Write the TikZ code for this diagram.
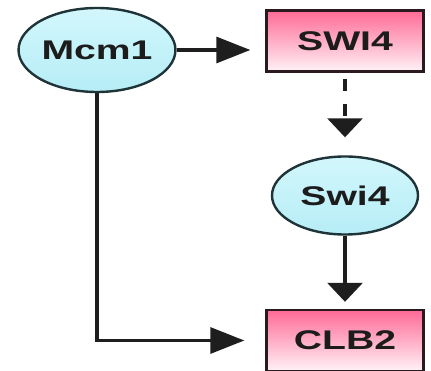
\documentclass[tikz,border=0pt]{standalone}
\usepackage{graphicx}
\usepackage{fontspec}
\setmainfont{Liberation Sans}
\usetikzlibrary{arrows.meta,shapes.geometric}

\definecolor{inktext}{HTML}{1C1C1C}
\definecolor{inkline}{HTML}{1E1E1E}
\definecolor{protedge}{HTML}{1F3438}
\definecolor{proteintop}{HTML}{D2F7FC}
\definecolor{proteinbot}{HTML}{B6EDF6}
\definecolor{genetop}{HTML}{FF6A96}
\definecolor{genemid}{HTML}{FFBCD2}
\definecolor{genebot}{HTML}{FFF2F7}
\definecolor{geneedge}{HTML}{2A1A20}

\newcommand{\lbl}[1]{\scalebox{1.45}[1]{\bfseries\fontsize{27}{27}\selectfont #1}}

\tikzset{
  protein/.style={ellipse, draw=protedge, line width=2.4pt,
    top color=proteintop, bottom color=proteinbot,
    inner sep=0pt, text=inktext},
  gene/.style={rectangle, draw=geneedge, line width=2.4pt,
    top color=genetop, middle color=genemid, bottom color=genebot,
    minimum width=157pt, minimum height=61pt, inner sep=0pt, text=inktext},
  link/.style={draw=inkline, line width=3.2pt},
  harrow/.style={link, -{Triangle[length=34pt,width=26pt]}},
  varrow/.style={link, -{Triangle[length=19pt,width=35pt]}},
}

\begin{document}
\begin{tikzpicture}[x=1pt,y=-1pt]
  \useasboundingbox[fill=white] (0,0) rectangle (431,371);

  % regulators and target genes
  \node[protein, minimum width=143pt, minimum height=84pt] (mcm1) at (97,50) {\lbl{Mcm1}};
  \node[gene] (swi4gene) at (345,41) {\lbl{SWI4}};
  \node[protein, minimum width=146pt, minimum height=78pt] (swi4) at (345,195.5) {\lbl{Swi4}};
  \node[gene] (clb2) at (345,340.5) {\lbl{CLB2}};

  % regulatory links
  \draw[harrow, shorten >=15pt] (mcm1.east) -- (mcm1.east -| swi4gene.west);
  \draw[varrow, dash pattern=on 12pt off 13pt, shorten <=6pt, shorten >=18pt]
    (swi4gene.south) -- (swi4.north);
  \draw[varrow, shorten >=7pt] (swi4.south) -- (clb2.north);
  \draw[harrow, shorten >=21pt] (mcm1.south) |- (clb2.west);
\end{tikzpicture}
\end{document}
